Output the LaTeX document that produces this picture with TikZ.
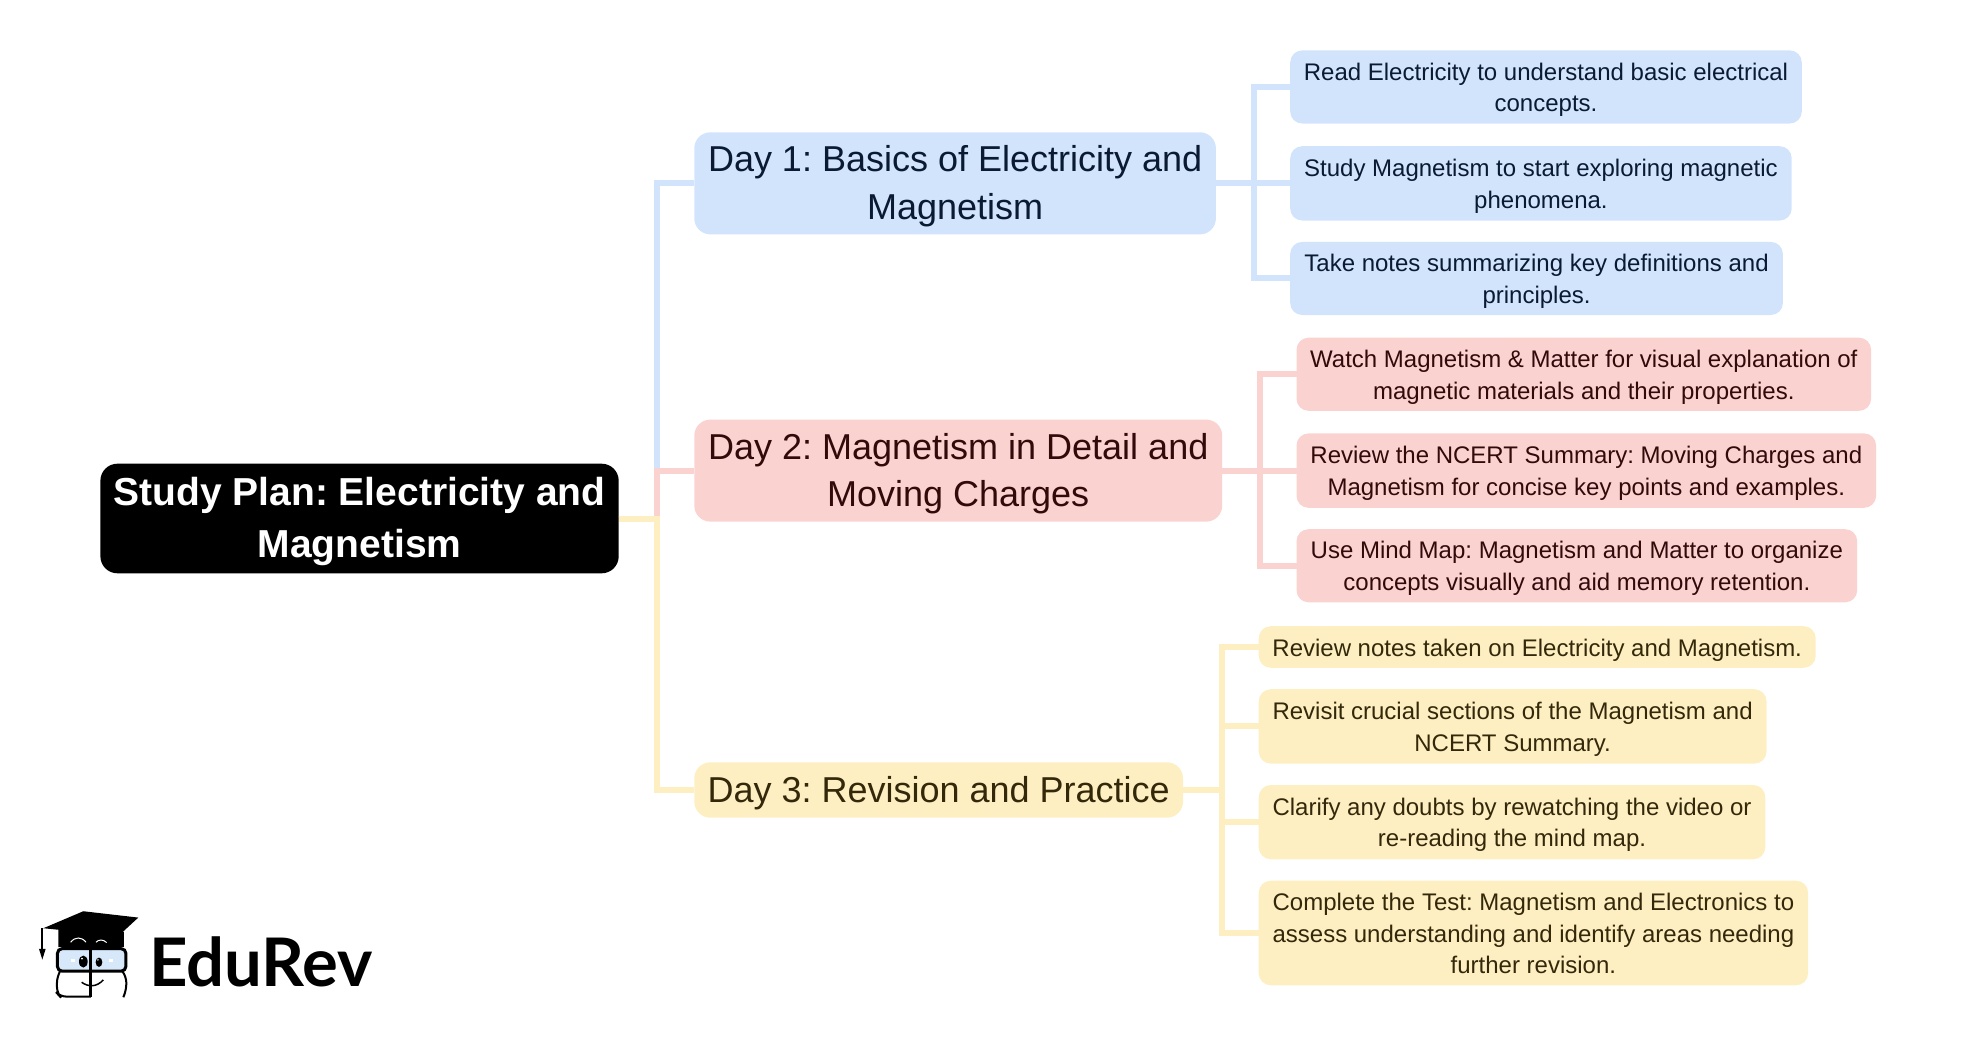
\documentclass[tikz,border=0pt]{standalone}
\usepackage{fontspec}
\setmainfont{Liberation Sans}
\newfontfamily\logofont{Lato}
\definecolor{bluefill}{HTML}{D2E3FC}
\definecolor{redfill}{HTML}{FAD2CF}
\definecolor{yelfill}{HTML}{FEEFC3}
\definecolor{bluetxt}{HTML}{0A1A33}
\definecolor{redtxt}{HTML}{330A0A}
\definecolor{yeltxt}{HTML}{33290A}
\definecolor{lens}{HTML}{D6E8FA}
\tikzset{
  x=1pt,y=-1pt,
  boxn/.style={inner sep=0pt,outer sep=0pt,anchor=center,
    execute at begin node={\frenchspacing}},
  rootbox/.style={boxn,fill=black,text=white,rounded corners=17pt,font=\fontsize{39}{51.8}\selectfont\bfseries},
  daybox/.style={boxn,rounded corners=16pt,font=\fontsize{36}{47.4}\selectfont},
  leafbox/.style={boxn,rounded corners=12pt,font=\fontsize{24}{31.6}\selectfont},
  bluec/.style={fill=bluefill,text=bluetxt},
  redc/.style={fill=redfill,text=redtxt},
  yelc/.style={fill=yelfill,text=yeltxt},
  conn/.style={line width=6pt,line join=miter,line cap=butt},
}
\newcommand{\bx}[7]{% style, name, x0, y0, x1, y1, text
  \node[#1,minimum width=#5pt-#3pt,minimum height=#6pt-#4pt] (#2) at ({(#3+#5)/2},{(#4+#6)/2}) {\raisebox{-2.7pt}[\height][\depth]{\begin{tabular}{@{}c@{}}#7\end{tabular}}};}
\begin{document}
\begin{tikzpicture}
\useasboundingbox (0,0) rectangle (1975,1036);
% nodes
\bx{rootbox}{root}{100.4}{463.7}{618.7}{573.3}{Study Plan: Electricity and\\Magnetism}
\bx{daybox,bluec}{d1}{694.3}{132.3}{1215.9}{234.4}{Day 1: Basics of Electricity and\\Magnetism}
\bx{daybox,redc}{d2}{694.3}{419.6}{1222.2}{521.6}{Day 2: Magnetism in Detail and\\Moving Charges}
\bx{daybox,yelc}{d3}{694.3}{762.3}{1183}{817.7}{Day 3: Revision and Practice}
\bx{leafbox,bluec}{a1}{1290.2}{50.4}{1801.8}{123.5}{Read Electricity to understand basic electrical\\concepts.}
\bx{leafbox,bluec}{a2}{1290.2}{146.2}{1791.7}{220.5}{Study Magnetism to start exploring magnetic\\phenomena.}
\bx{leafbox,bluec}{a3}{1290.2}{241.9}{1782.9}{315}{Take notes summarizing key definitions and\\principles.}
\bx{leafbox,redc}{b1}{1296.5}{337.7}{1871.1}{410.8}{Watch Magnetism \& Matter for visual explanation of\\magnetic materials and their properties.}
\bx{leafbox,redc}{b2}{1296.5}{433.4}{1876.1}{507.8}{Review the NCERT Summary: Moving Charges and\\Magnetism for concise key points and examples.}
\bx{leafbox,redc}{b3}{1296.5}{529.2}{1857.2}{602.3}{Use Mind Map: Magnetism and Matter to organize\\concepts visually and aid memory retention.}
\bx{leafbox,yelc}{c1}{1258.7}{626.2}{1815.7}{667.8}{Review notes taken on Electricity and Magnetism.}
\bx{leafbox,yelc}{c2}{1258.7}{689.2}{1766.5}{763.6}{Revisit crucial sections of the Magnetism and\\NCERT Summary.}
\bx{leafbox,yelc}{c3}{1258.7}{785}{1765.3}{859.3}{Clarify any doubts by rewatching the video or\\re-reading the mind map.}
\bx{leafbox,yelc}{c4}{1258.7}{880.7}{1808.1}{985.3}{Complete the Test: Magnetism and Electronics to\\assess understanding and identify areas needing\\further revision.}
% junctions
\path (root.east) ++(38,0) coordinate (jr);
\path (d1.east) ++(38,0) coordinate (j1);
\path (d2.east) ++(38,0) coordinate (j2);
\path (d3.east) ++(38.5,0) coordinate (j3);
% connectors
\draw[conn,bluefill] (root.east) -- (jr) |- (d1.west);
\draw[conn,redfill] (root.east) -- (jr) |- (d2.west);
\draw[conn,yelfill] (root.east) -- (jr) |- (d3.west);
\draw[conn,bluefill] (d1.east) -- (j1) |- (a1.west);
\draw[conn,bluefill] (d1.east) -- (j1) |- (a2.west);
\draw[conn,bluefill] (d1.east) -- (j1) |- (a3.west);
\draw[conn,redfill] (d2.east) -- (j2) |- (b1.west);
\draw[conn,redfill] (d2.east) -- (j2) |- (b2.west);
\draw[conn,redfill] (d2.east) -- (j2) |- (b3.west);
\draw[conn,yelfill] (d3.east) -- (j3) |- (c1.west);
\draw[conn,yelfill] (d3.east) -- (j3) |- (c2.west);
\draw[conn,yelfill] (d3.east) -- (j3) |- (c3.west);
\draw[conn,yelfill] (d3.east) -- (j3) |- (c4.west);
% logo wordmark
\node[inner sep=0pt,anchor=base west,font=\fontsize{67}{67}\selectfont\logofont\bfseries] (logo) at (149,986) {EduRev};
% logo mascot, in 3x crop coordinates
\begin{scope}[x=0.3333pt,y=-0.3333pt,shift={(0,2550)}]
\fill (175,240) -- (372,245) -- (372,292) -- (175,292) -- cycle;
\fill (130,235) -- (250,184) -- (415,203) -- (340,272) -- (270,252) -- (180,240) -- cycle;
\draw[white,line width=1pt] (212,277) .. controls (225,260) and (245,260) .. (258,277);
\draw[white,line width=1pt] (288,277) .. controls (296,268) and (310,268) .. (320,278);
\draw[line width=1.8pt] (127,235) -- (127,297);
\fill (117,297) -- (137,297) -- (127,329) -- cycle;
\draw[line width=3pt,fill=lens,rounded corners=5pt] (172,296) rectangle (378,364);
\draw[line width=3pt] (273,296) -- (273,442);
\fill (250,335) ellipse [x radius=13,y radius=18];
\fill (297,337) ellipse [x radius=10,y radius=14];
\fill[white] (246,326) circle (3);
\fill[white] (294,330) circle (2.5);
\fill[white] (212,326) rectangle (224,337);
\fill[white] (326,326) rectangle (340,337);
\draw[line width=2pt,rounded corners=6pt] (178,368) -- (171,380) -- (171,430) -- (180,440) -- (273,440);
\draw[line width=2pt,rounded corners=6pt] (370,368) -- (379,380) -- (379,420) -- (370,442);
\draw[line width=1.5pt] (245,397) .. controls (265,412) and (290,412) .. (310,390);
\end{scope}
\end{tikzpicture}
\end{document}
